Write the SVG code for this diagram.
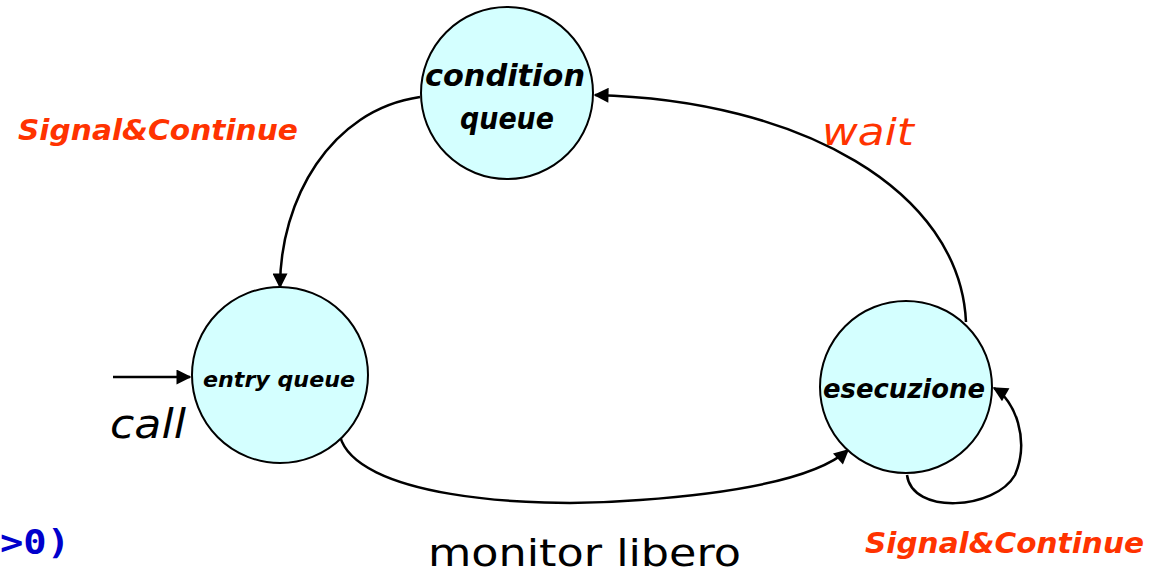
<svg xmlns="http://www.w3.org/2000/svg" width="1160" height="573" viewBox="0 0 1160 573">
  <style>
    .state { fill: #d4ffff; stroke: #000; stroke-width: 2; }
    .edge { fill: none; stroke: #000; stroke-width: 2.5; }
    .lbl { font-family: "Comic Sans MS", "DejaVu Sans", sans-serif; font-style: italic; font-weight: bold; fill: #000; text-anchor: middle; }
    .red { font-family: "Comic Sans MS", "DejaVu Sans", sans-serif; font-style: italic; fill: #ff3300; }
    .blk { font-family: "Comic Sans MS", "DejaVu Sans", sans-serif; fill: #000; }
    .code { font-family: "DejaVu Sans Mono", monospace; font-weight: bold; fill: #0000cc; }
  </style>
  <defs>
    <marker id="arr" viewBox="0 0 10 10" refX="9" refY="5" markerWidth="6.5" markerHeight="6" orient="auto" markerUnits="strokeWidth">
      <path d="M0,0 L10,5 L0,10 z" fill="#000"/>
    </marker>
  </defs>
  <rect width="1160" height="573" fill="#fff"/>

  <g id="connectors">
    <path class="edge" marker-end="url(#arr)" d="M420,97 C 330,110 280,200 280,287"/>
    <path class="edge" marker-end="url(#arr)" d="M966,322 C 960,190 800,100 595,95"/>
    <path class="edge" marker-end="url(#arr)" d="M340,436 C 355,495 520,510 640,500 C 750,492 820,475 848,450"/>
    <path class="edge" marker-end="url(#arr)" d="M907,475 C 912,515 995,510 1015,475 C 1030,440 1015,400 994,388"/>
    <path class="edge" marker-end="url(#arr)" d="M113,377 L190,377"/>
  </g>

  <g id="condition-queue">
    <circle class="state" cx="507" cy="93" r="86"/>
    <text class="lbl" x="505" y="86" font-size="31" textLength="160" lengthAdjust="spacingAndGlyphs">condition</text>
    <text class="lbl" x="507" y="129" font-size="31" textLength="94" lengthAdjust="spacingAndGlyphs">queue</text>
  </g>

  <g id="entry-queue">
    <circle class="state" cx="280" cy="375" r="88"/>
    <text class="lbl" x="279" y="387" font-size="21" textLength="152" lengthAdjust="spacingAndGlyphs">entry queue</text>
  </g>

  <g id="esecuzione">
    <circle class="state" cx="906" cy="387" r="86"/>
    <text class="lbl" x="904" y="398" font-size="26" textLength="162" lengthAdjust="spacingAndGlyphs">esecuzione</text>
  </g>

  <g id="labels">
    <text class="red" x="18" y="140" font-size="28" font-weight="bold" textLength="280" lengthAdjust="spacingAndGlyphs">Signal&amp;Continue</text>
    <text class="red" x="822" y="145" font-size="38" textLength="92" lengthAdjust="spacingAndGlyphs">wait</text>
    <text class="blk" x="110" y="438" font-size="40" font-style="italic" textLength="76" lengthAdjust="spacingAndGlyphs">call</text>
    <text class="blk" x="428" y="566" font-size="38" textLength="313" lengthAdjust="spacingAndGlyphs">monitor libero</text>
    <text class="red" x="865" y="553" font-size="28" font-weight="bold" textLength="279" lengthAdjust="spacingAndGlyphs">Signal&amp;Continue</text>
    <text class="code" x="0" y="554" font-size="34" textLength="70" lengthAdjust="spacingAndGlyphs">&gt;0)</text>
  </g>
</svg>
